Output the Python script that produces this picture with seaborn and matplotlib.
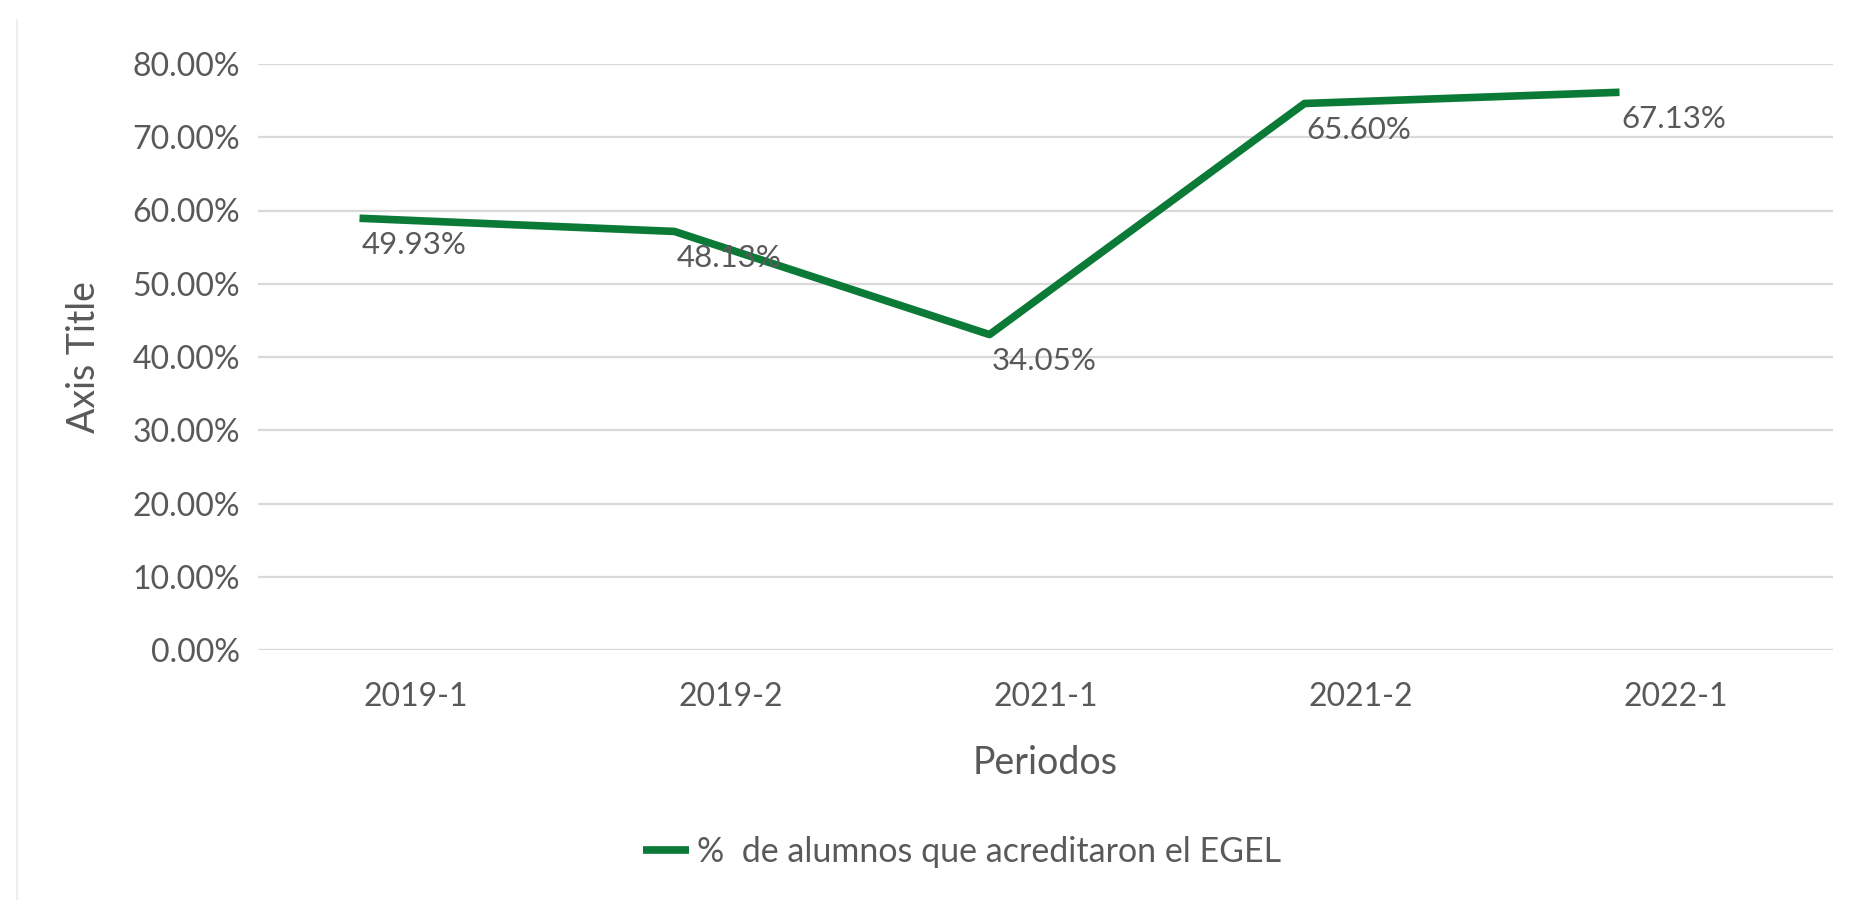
import matplotlib
matplotlib.use("Agg")
import matplotlib.pyplot as plt
import seaborn as sns
import pandas as pd
from matplotlib.ticker import PercentFormatter
from matplotlib.lines import Line2D

# ---- data ----
periodos = ["2019-1", "2019-2", "2021-1", "2021-2", "2022-1"]
porcentajes = [0.4993, 0.4813, 0.3405, 0.6560, 0.6713]
serie = "%  de alumnos que acreditaron el EGEL"
y_ticks = [0.0, 0.1, 0.2, 0.3, 0.4, 0.5, 0.6, 0.7, 0.8]

W, H = 1857, 900
GREEN = "#0B7A36"
TXT = "#595959"
GRID = "#D9D9D9"

sns.set_theme(style="white")
plt.rcParams["font.family"] = ["Lato", "DejaVu Sans"]

fig = plt.figure(figsize=(W / 100, H / 100), dpi=100)
# plot area (gridlines, ticks)
L, B, PW, PH = 258, 650, 1575, 586
ax = fig.add_axes([L / W, 1 - B / H, PW / W, PH / H])
# data layer: in the reference the line/labels layer is displaced relative to the grid
DX, DY = -56, 66
ax2 = fig.add_axes([(L + DX) / W, 1 - (B - DY) / H, PW / W, PH / H])
ax2.patch.set_alpha(0)

df = pd.DataFrame({"Periodos": periodos, "valor": porcentajes})
sns.lineplot(data=df, x="Periodos", y="valor", ax=ax2, color=GREEN,
             linewidth=5.5, legend=False, sort=False)
for ln in ax2.lines:
    ln.set_solid_capstyle("butt")

for i, v in enumerate(porcentajes):
    ax2.annotate(f"{v * 100:.2f}%", (i, v), xytext=(1.5, -19), textcoords="offset points",
                 ha="left", va="center", fontsize=22.5, color=TXT)

for a in (ax, ax2):
    a.set_xlim(-0.5, len(periodos) - 0.5)
    a.set_ylim(0, 0.8)
ax2.axis("off")

# dummy categorical axis for ticks
ax.set_xticks(range(len(periodos)))
ax.set_xticklabels(periodos)
ax.set_yticks(y_ticks)
ax.yaxis.set_major_formatter(PercentFormatter(1.0, decimals=2))
ax.grid(axis="y", color=GRID, linewidth=1.6)
ax.grid(axis="x", visible=False)
ax.set_axisbelow(True)
for s in ax.spines.values():
    s.set_visible(False)
ax.tick_params(axis="both", length=0, labelsize=23, labelcolor=TXT)
ax.tick_params(axis="y", pad=13)
ax.tick_params(axis="x", pad=23)

ax.set_xlabel("Periodos", fontsize=27, color=TXT, va="center")
ax.xaxis.set_label_coords(0.5, (650 - 763) / 586)
ax.set_ylabel("Axis Title", fontsize=27, color=TXT, va="center")
ax.yaxis.set_label_coords((84 - 258) / 1575, 0.5)

handle = Line2D([0], [0], color=GREEN, linewidth=5.5, solid_capstyle="butt")
fig.legend([handle], [serie], loc="center", bbox_to_anchor=(962 / W, 1 - 852 / H),
           frameon=False, fontsize=24.5, labelcolor=TXT, handlelength=1.35,
           handletextpad=0.25)

fig.add_artist(Line2D([17 / W, 17 / W], [0, 1 - 20 / H], color="#EEEEEE",
                      linewidth=1.5, transform=fig.transFigure))

fig.savefig("out.png", dpi=100, facecolor="white")
